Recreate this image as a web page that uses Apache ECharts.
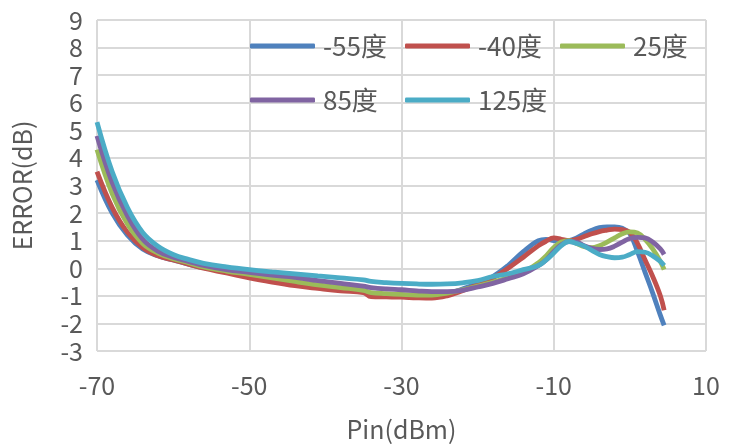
<!DOCTYPE html>
<html><head><meta charset="utf-8">
<script src="https://cdn.jsdelivr.net/npm/echarts@6/dist/echarts.min.js"></script>
<style>html,body{margin:0;padding:0;background:#fff}#c{width:733px;height:448px}</style>
</head><body><div id="c"></div>
<script>
const xVals = [-70,-68,-66,-64,-62,-60,-58,-56,-53,-50,-47,-44,-41,-38,-35,-34,-32,-30,-28,-26,-24,-22,-20,-18,-16,-14,-12,-11,-10,-9,-8,-7,-6,-5,-4,-3,-2,-1,0,1,2,3,4,4.5];
const seriesNames = ['-55度','-40度','25度','85度','125度'];
const sM55 = [3.2,2.0,1.2,0.7,0.45,0.3,0.15,0.02,-0.12,-0.28,-0.42,-0.55,-0.67,-0.77,-0.86,-0.98,-1.0,-1.02,-1.05,-1.05,-0.95,-0.75,-0.55,-0.3,0.1,0.6,1.0,1.05,1.0,0.98,1.0,1.1,1.25,1.38,1.47,1.5,1.5,1.45,1.25,0.6,-0.15,-0.9,-1.7,-2.07];
const sM40 = [3.5,2.2,1.3,0.75,0.45,0.3,0.15,0.0,-0.17,-0.35,-0.5,-0.63,-0.73,-0.82,-0.88,-1.03,-1.04,-1.05,-1.07,-1.08,-1.0,-0.82,-0.6,-0.35,0.0,0.4,0.82,0.98,1.1,1.05,1.0,1.05,1.15,1.25,1.33,1.38,1.42,1.4,1.3,0.9,0.3,-0.3,-1.0,-1.52];
const s25 = [4.3,2.7,1.6,0.9,0.55,0.35,0.2,0.05,-0.1,-0.22,-0.35,-0.48,-0.6,-0.7,-0.8,-0.88,-0.92,-0.95,-0.97,-0.97,-0.9,-0.78,-0.65,-0.5,-0.35,-0.15,0.2,0.45,0.75,0.95,1.0,0.9,0.78,0.75,0.82,0.95,1.1,1.25,1.32,1.28,1.05,0.7,0.25,-0.05];
const s85 = [4.8,3.1,1.9,1.05,0.62,0.4,0.25,0.1,-0.05,-0.15,-0.25,-0.33,-0.45,-0.55,-0.65,-0.7,-0.75,-0.78,-0.82,-0.85,-0.85,-0.8,-0.68,-0.55,-0.38,-0.2,0.1,0.3,0.6,0.85,0.97,0.95,0.82,0.72,0.68,0.7,0.8,0.95,1.08,1.12,1.1,0.95,0.7,0.5];
const s125 = [5.3,3.5,2.2,1.3,0.8,0.5,0.32,0.18,0.05,-0.05,-0.13,-0.2,-0.28,-0.35,-0.42,-0.48,-0.52,-0.55,-0.57,-0.58,-0.57,-0.53,-0.45,-0.3,-0.2,-0.05,0.1,0.3,0.55,0.82,0.97,0.9,0.8,0.65,0.5,0.42,0.38,0.4,0.5,0.6,0.58,0.45,0.25,0.1];
const colors = ['#4F81BD','#C0504D','#9BBB59','#8064A2','#4BACC6'];
const allData = [sM55,sM40,s25,s85,s125];
const font = '"Noto Sans CJK SC", "Noto Sans", sans-serif';
const chart = echarts.init(document.getElementById('c'));
const legendText = {fontSize: 26, color: '#595959', fontFamily: font, padding: [0, 0, 0, 3]};
const legendPos = [[250, 33], [405, 33], [560, 33], [250, 87], [405, 87]];
chart.setOption({
  animation: false,
  color: colors,
  grid: {left: 97, right: 27, top: 20, bottom: 97},
  legend: seriesNames.map((n, i) => ({
    data: [n], left: legendPos[i][0], top: legendPos[i][1],
    itemWidth: 65, itemHeight: 5, icon: 'roundRect', textStyle: legendText, padding: 0
  })),
  xAxis: {
    type: 'value', min: -70, max: 10, interval: 20,
    name: 'Pin(dBm)', nameLocation: 'middle', nameGap: 66,
    nameTextStyle: {fontSize: 25, color: '#595959', fontFamily: font},
    axisLine: {show: false}, axisTick: {show: false},
    axisLabel: {fontSize: 25, color: '#595959', fontFamily: font, margin: 22},
    splitLine: {lineStyle: {color: '#D9D9D9', width: 2}}
  },
  yAxis: {
    type: 'value', min: -3, max: 9, interval: 1,
    name: 'ERROR(dB)', nameLocation: 'middle', nameGap: 62,
    nameTextStyle: {fontSize: 25, color: '#595959', fontFamily: font},
    axisLine: {show: false}, axisTick: {show: false},
    axisLabel: {fontSize: 25, color: '#595959', fontFamily: font, margin: 14},
    splitLine: {lineStyle: {color: '#D9D9D9', width: 2}}
  },
  series: seriesNames.map((n, i) => ({
    name: n, type: 'line', smooth: 0.4, showSymbol: false,
    lineStyle: {width: 4.8, color: colors[i]},
    data: xVals.map((x, j) => [x, allData[i][j]])
  }))
});
</script></body></html>
